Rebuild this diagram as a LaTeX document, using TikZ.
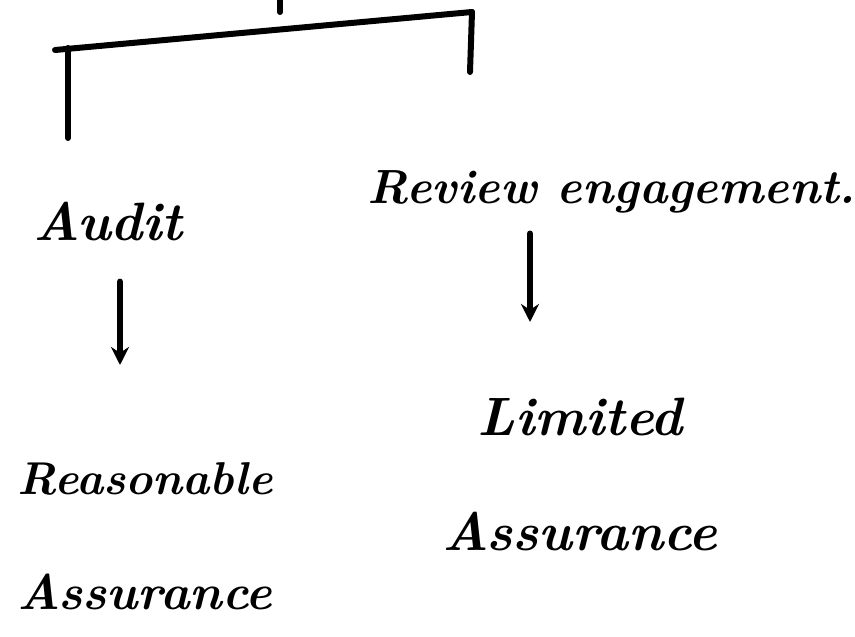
\documentclass[tikz,border=0pt]{standalone}
\usetikzlibrary{arrows.meta}
\begin{document}
\begin{tikzpicture}[x=1pt,y=-1pt,
  ink/.style={line width=6pt,line cap=round,line join=round,black},
  arr/.style={ink,-{Stealth[length=18pt,width=18pt]}},
  lbl/.style={font=\fontsize{54}{115}\selectfont\bfseries\itshape,align=center,inner sep=0pt}]
\useasboundingbox[fill=white] (0,0) rectangle (855,637);
% bracket
\coordinate (top0) at (280,-5);
\coordinate (top1) at (280,12);
\coordinate (barL) at (55,50);
\coordinate (barR) at (472,12);
\coordinate (legL) at (68,138);
\coordinate (legR) at (470,72);
\draw[ink] (top0) -- (top1);
\draw[ink] (barL) -- (barR);
\draw[ink] (68,48) -- (legL);
\draw[ink] (barR) -- (legR);
% labels
\node[lbl] (audit) at (108,222) {Audit};
\node[lbl,font=\fontsize{48}{60}\selectfont\bfseries\itshape] (review) at (612,192) {Review engagement.};
\node[lbl,anchor=north,font=\fontsize{46}{115}\selectfont\bfseries\itshape] (reas) at (145,462) {Reasonable\\{\fontsize{50}{60}\selectfont Assurance}};
\node[lbl,anchor=north] (lim) at (580,398) {Limited\\Assurance};
% arrows
\draw[arr] ([xshift=12pt,yshift=-40pt]audit.south) -- ([xshift=-25pt,yshift=97pt]reas.north);
\draw[arr] ([xshift=-82pt,yshift=-20pt]review.south) -- ([xshift=-50pt,yshift=76pt]lim.north);
\end{tikzpicture}
\end{document}
